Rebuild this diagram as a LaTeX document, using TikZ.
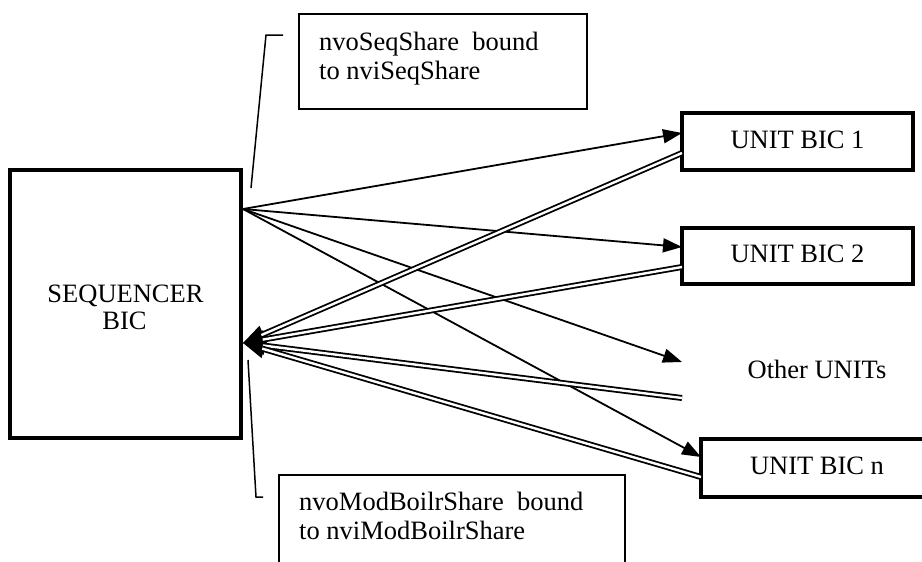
\documentclass[tikz,border=0pt]{standalone}
\usepackage{fontspec}
\setmainfont{Liberation Serif}
\usetikzlibrary{arrows.meta}
\begin{document}
\begin{tikzpicture}[x=1pt,y=-1pt,
  every node/.style={font=\fontsize{26.5}{29}\selectfont},
  unitbox/.style={draw, line width=3.2pt, minimum width=231pt, minimum height=57pt, inner sep=0pt, text height=13pt, text depth=0pt},
  seqbox/.style={draw, line width=3.2pt, minimum width=231pt, minimum height=268pt, inner sep=0pt},
  callbox/.style={draw, line width=1.6pt, inner sep=0pt, anchor=north west},
  lbl/.style={anchor=base, inner sep=0pt},
  lbll/.style={anchor=base west, inner sep=0pt},
  leader/.style={line width=1.5pt},
  fwd/.style={line width=1.8pt, -{Triangle[length=19pt,width=14pt]}},
  backtip/.style={line width=1.8pt, -{Triangle[length=22pt,width=18pt]}},
  dbl/.style={double, line width=1.8pt, double distance=2.4pt, shorten >=20pt}
]
\useasboundingbox (0,0) rectangle (922,562);

% main boxes
\node[seqbox] (seq) at (125.5,304) {};
\node[lbl] (seqt1) at (125.5,302) {SEQUENCER};
\node[lbl] (seqt2) at (124.5,329) {BIC};

\node[unitbox] (u1) at (797.5,141.5) {UNIT BIC 1};
\node[unitbox, minimum height=56pt] (u2) at (797.5,256) {UNIT BIC 2};
\node[lbl] (other) at (817,378) {Other UNITs};
\node[unitbox, minimum width=232pt, minimum height=58pt] (un) at (817,468) {UNIT BIC n};

% callouts
\node[callbox, minimum width=288pt, minimum height=95pt] (ctop) at (298,13) {};
\node[lbll] (ctop1) at (319,50) {nvoSeqShare\ \ bound};
\node[lbll] (ctop2) at (319,79) {to nviSeqShare};

\node[callbox, minimum width=346pt, minimum height=110pt] (cbot) at (278,474) {};
\node[lbll] (cbot1) at (299,510) {nvoModBoilrShare\ \ bound};
\node[lbll] (cbot2) at (299,539) {to nviModBoilrShare};

% leader lines
\coordinate (lt1) at (283,35);
\coordinate (lt2) at (266,35);
\coordinate (lt3) at (251,188);
\draw[leader] (lt1) -- (lt2) -- (lt3);
\coordinate (lb1) at (248,360);
\coordinate (lb2) at (256,497);
\coordinate (lb3) at (263,497);
\draw[leader] (lb1) -- (lb2) -- (lb3);

% connection points
\coordinate (seqout) at (243,209);
\coordinate (seqin) at (243,343);
\coordinate (u1in) at (682,133);
\coordinate (u2in) at (682,247);
\coordinate (otin) at (682,362);
\coordinate (unin) at (701,457);
\coordinate (u1out) at (682,153);
\coordinate (u2out) at (682,267);
\coordinate (otout) at (682,398);
\coordinate (unout) at (701,477);

% forward arrows
\draw[fwd] (seqout) -- (u1in);
\draw[fwd] (seqout) -- (u2in);
\draw[fwd] (seqout) -- (otin);
\draw[fwd] (seqout) -- (unin);

% return double arrows
\foreach \s in {u1out,u2out,otout,unout}{
  \draw[backtip] (\s) -- (seqin);
}
\foreach \s in {u1out,u2out,otout,unout}{
  \draw[dbl] (\s) -- (seqin);
}
\end{tikzpicture}
\end{document}
